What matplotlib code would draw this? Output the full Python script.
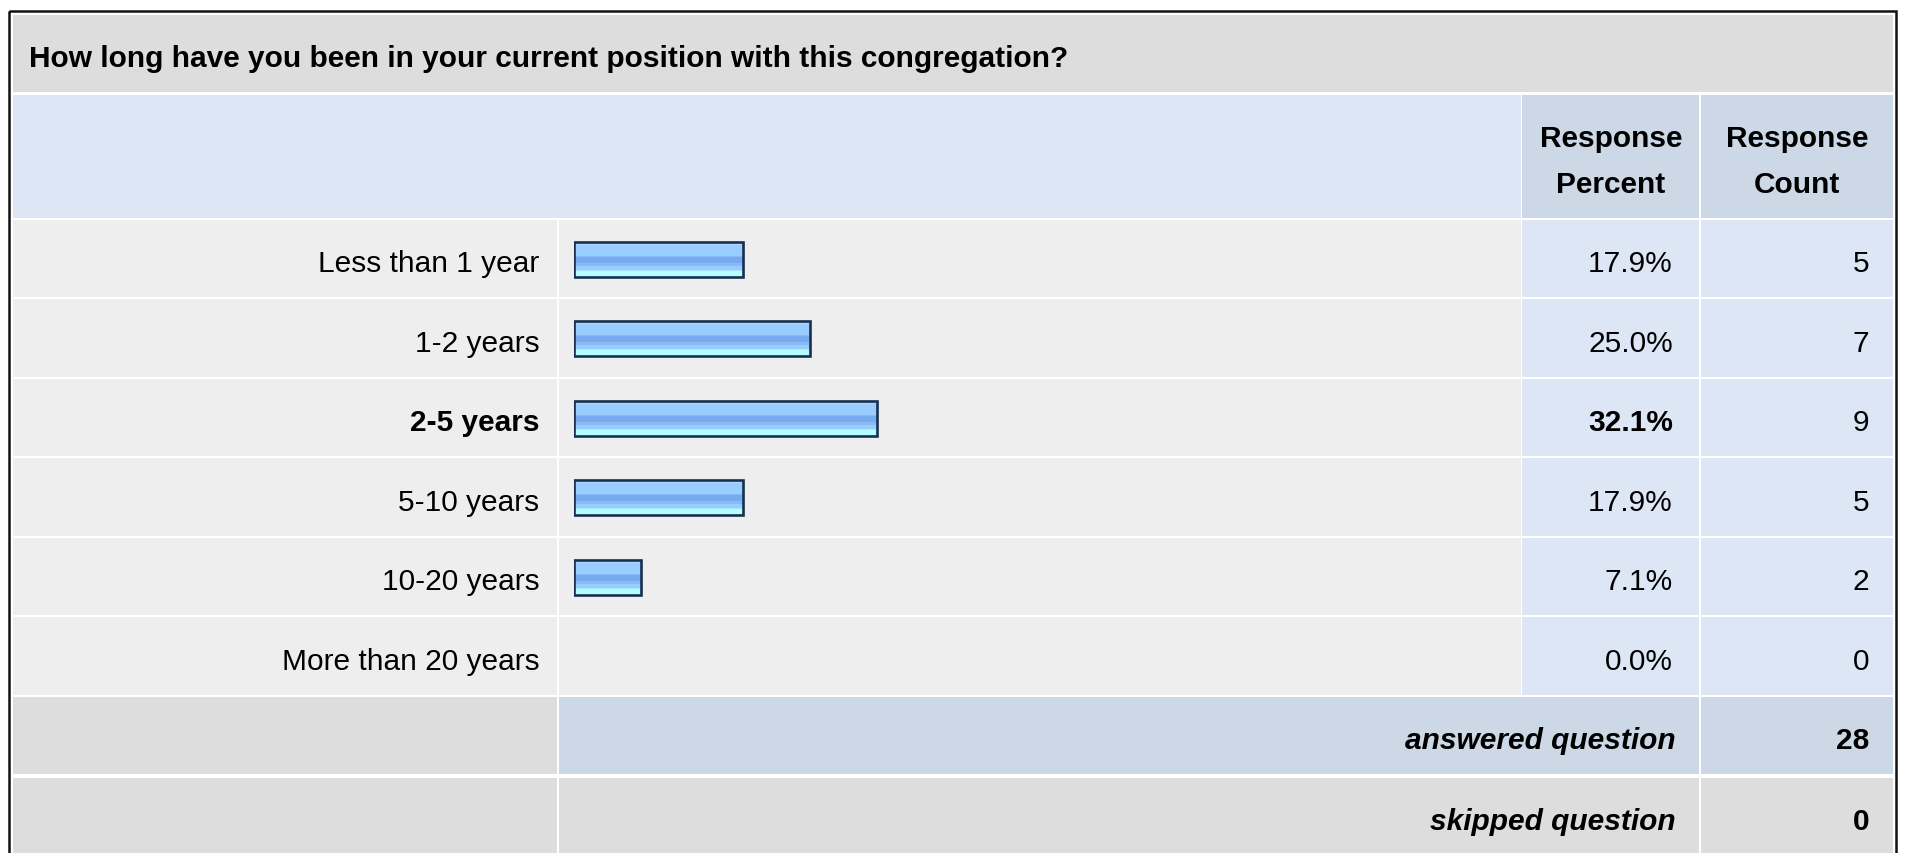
import matplotlib
matplotlib.use('Agg')
import matplotlib.pyplot as plt
from matplotlib.patches import Rectangle
from matplotlib.colors import to_rgb
import numpy as np

plt.rcParams['font.family'] = ['Liberation Sans', 'DejaVu Sans']

# data
question = 'How long have you been in your current position with this congregation?'
categories = ['Less than 1 year', '1-2 years', '2-5 years', '5-10 years',
              '10-20 years', 'More than 20 years']
percents = [17.9, 25.0, 32.1, 17.9, 7.1, 0.0]
counts = [5, 7, 9, 5, 2, 0]
answered = 28
skipped = 0

W, H = 1909, 854
fig = plt.figure(figsize=(W / 100, H / 100), dpi=100)
fig.patch.set_facecolor('white')

# background axes in pixel units, y goes down
bg = fig.add_axes([0, 0, 1, 1])
bg.set_xlim(0, W)
bg.set_ylim(H, 0)
bg.axis('off')

FS = 21.5
GRAY = '#DDDDDD'
ROW = '#EEEEEE'
LBLUE = '#DCE6F4'
MBLUE = '#CCD8E6'

# column edges
c0 = (12.7, 557.3)
c1 = (559.3, 1520.7)
c2 = (1522.3, 1699.3)
c3 = (1701.0, 1893.3)
row_top0 = 220.7
pitch = 79.5
row_h = 77.5


def cell(x0, x1, y0, y1, color):
    bg.add_patch(Rectangle((x0, y0), x1 - x0, y1 - y0, facecolor=color,
                           edgecolor='none', zorder=1))


# title band
cell(c0[0], c3[1], 16, 92.7, GRAY)
bg.text(29, 67.3, question, fontsize=FS, fontweight='bold', ha='left', va='baseline')

# header band
cell(c0[0], c1[1], 96, 218.7, LBLUE)
cell(c2[0], c2[1], 96, 218.7, MBLUE)
cell(c3[0], c3[1], 96, 218.7, MBLUE)
for cx, words in [((c2[0] + c2[1]) / 2, ['Response', 'Percent']),
                  ((c3[0] + c3[1]) / 2, ['Response', 'Count'])]:
    bg.text(cx, 146.7, words[0], fontsize=FS, fontweight='bold', ha='center', va='baseline')
    bg.text(cx, 192.7, words[1], fontsize=FS, fontweight='bold', ha='center', va='baseline')

# answer rows
top_idx = int(np.argmax(percents))
for i, (cat, p, n) in enumerate(zip(categories, percents, counts)):
    y0 = row_top0 + i * pitch
    y1 = y0 + row_h
    cell(c0[0], c0[1], y0, y1, ROW)
    cell(c1[0], c1[1], y0, y1, ROW)
    cell(c2[0], c2[1], y0, y1, LBLUE)
    cell(c3[0], c3[1], y0, y1, LBLUE)
    yb = (y0 + y1) / 2 + 13
    w = 'bold' if i == top_idx else 'normal'
    bg.text(539.5, yb, cat, fontsize=FS, fontweight=w, ha='right', va='baseline')
    bg.text(1673, yb, f'{p:.1f}%', fontsize=FS, fontweight=w, ha='right', va='baseline')
    bg.text(1869, yb, str(n), fontsize=FS, ha='right', va='baseline')

# summary rows
y0 = row_top0 + 6 * pitch
cell(c0[0], c0[1], y0, y0 + row_h, GRAY)
cell(c1[0], c2[1], y0, y0 + row_h, MBLUE)
cell(c3[0], c3[1], y0, y0 + row_h, MBLUE)
yb = y0 + row_h / 2 + 13
bg.text(1676, yb, 'answered question', fontsize=FS, fontweight='bold', style='italic',
        ha='right', va='baseline')
bg.text(1869, yb, str(answered), fontsize=FS, fontweight='bold', ha='right', va='baseline')

y0 = row_top0 + 7 * pitch + 1.5
cell(c0[0], c0[1], y0, H + 10, GRAY)
cell(c1[0], c2[1], y0, H + 10, GRAY)
cell(c3[0], c3[1], y0, H + 10, GRAY)
yb = y0 + row_h / 2 + 13
bg.text(1676, yb, 'skipped question', fontsize=FS, fontweight='bold', style='italic',
        ha='right', va='baseline')
bg.text(1869, yb, str(skipped), fontsize=FS, fontweight='bold', ha='right', va='baseline')

# outer frame
bg.add_patch(Rectangle((9.3, 11.7), 1886.5, 900, fill=False, edgecolor='#111111',
                       linewidth=1.8, zorder=5))

# bar axes: 0-100 % across the bar column, one slot per answer row
bar_left, bar_right = 574, 1519
ax = fig.add_axes([bar_left / W, 1 - (row_top0 + 6 * pitch) / H,
                   (bar_right - bar_left) / W, 6 * pitch / H])
ax.patch.set_alpha(0)
ax.axis('off')

# glossy stripes, top to bottom
stripe_hex = (['#C4E2FF'] * 2 + ['#ADD6FF'] + ['#99CCFF'] * 9 + ['#88BBF5']
              + ['#77AAEE'] * 5 + ['#88BBF5'] * 3 + ['#99CCFF'] * 3 + ['#A6E6FF']
              + ['#B3FFFF'] * 5)
stripes = np.array([to_rgb(c) for c in stripe_hex])[:, None, :]

bh = 0.44
for i, p in enumerate(percents):
    if p <= 0:
        continue
    ax.imshow(stripes, extent=(0, p, i + bh / 2, i - bh / 2), aspect='auto',
              interpolation='nearest', zorder=2)
    ax.barh(i, p, height=bh, fill=False, edgecolor='#18304F', linewidth=1.9, zorder=3)

ax.set_xlim(0, 100)
ax.set_ylim(len(categories) - 0.5, -0.5)

fig.savefig('out.png', dpi=100)
